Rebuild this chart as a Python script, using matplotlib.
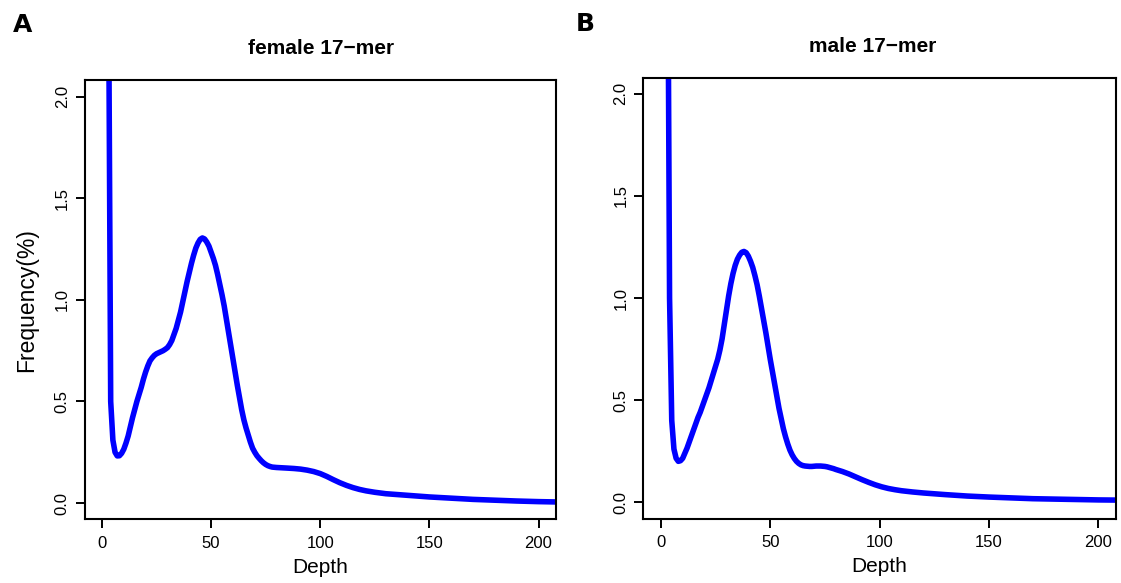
import numpy as np
import matplotlib.pyplot as plt

plt.rcParams['font.family'] = ['Liberation Sans', 'DejaVu Sans']

# k-mer depth distributions (depth, frequency %)
female_depth = list(range(1, 81)) + [85, 88, 91, 94, 97, 100, 103, 106, 109, 112, 115,
                                     118, 121, 125, 130, 140, 150, 160, 170, 180, 190,
                                     200, 210]
female_freq = [25.0, 7.0, 2.6, 0.50, 0.31, 0.25, 0.232, 0.233, 0.245, 0.265,
               0.295, 0.33, 0.375, 0.42, 0.46, 0.50, 0.535, 0.57, 0.61, 0.645,
               0.675, 0.70, 0.715, 0.727, 0.735, 0.74, 0.745, 0.75, 0.757, 0.765,
               0.78, 0.80, 0.83, 0.86, 0.90, 0.94, 0.99, 1.04, 1.09, 1.135,
               1.18, 1.22, 1.255, 1.28, 1.298, 1.305, 1.30, 1.285, 1.265, 1.235,
               1.205, 1.17, 1.125, 1.075, 1.025, 0.97, 0.905, 0.84, 0.775, 0.71,
               0.645, 0.58, 0.52, 0.46, 0.41, 0.37, 0.335, 0.30, 0.27, 0.25,
               0.233, 0.22, 0.208, 0.198, 0.19, 0.184, 0.18, 0.177, 0.176, 0.175,
               0.172, 0.170, 0.167, 0.162, 0.155, 0.145, 0.131, 0.115, 0.100, 0.087,
               0.076, 0.067, 0.060, 0.053, 0.046, 0.038, 0.030, 0.024, 0.018, 0.014,
               0.010, 0.007, 0.005]

male_depth = list(range(1, 81)) + [83, 86, 89, 92, 95, 98, 101, 104, 107, 110, 115,
                                   120, 130, 140, 150, 160, 170, 180, 190, 200, 210]
male_freq = [25.0, 7.0, 3.2, 1.0, 0.40, 0.26, 0.215, 0.20, 0.203, 0.215,
             0.24, 0.265, 0.295, 0.325, 0.355, 0.385, 0.415, 0.44, 0.47, 0.50,
             0.53, 0.56, 0.595, 0.63, 0.665, 0.70, 0.745, 0.80, 0.87, 0.94,
             1.01, 1.07, 1.12, 1.16, 1.19, 1.21, 1.224, 1.228, 1.222, 1.205,
             1.18, 1.15, 1.11, 1.065, 1.01, 0.95, 0.89, 0.83, 0.765, 0.70,
             0.64, 0.58, 0.52, 0.46, 0.41, 0.36, 0.32, 0.285, 0.255, 0.232,
             0.214, 0.20, 0.19, 0.183, 0.179, 0.177, 0.176, 0.175, 0.175, 0.176,
             0.177, 0.177, 0.177, 0.176, 0.175, 0.173, 0.17, 0.167, 0.164, 0.16,
             0.15, 0.138, 0.124, 0.11, 0.097, 0.085, 0.075, 0.067, 0.061, 0.056,
             0.05, 0.045, 0.037, 0.03, 0.025, 0.021, 0.017, 0.015, 0.013, 0.011,
             0.010]

xticks = [0, 50, 100, 150, 200]
yticks = [0.0, 0.5, 1.0, 1.5, 2.0]
ytick_labels = ['0.0', '0.5', '1.0', '1.5', '2.0']

W, H = 1121, 583
fig = plt.figure(figsize=(W / 100, H / 100), dpi=100)


def px_axes(x0, y0, x1, y1):
    return fig.add_axes([x0 / W, 1 - y1 / H, (x1 - x0) / W, (y1 - y0) / H])


def style(ax, depth, freq):
    ax.plot(depth, freq, color='#0000ff', lw=4, solid_joinstyle='round',
            solid_capstyle='round')
    ax.set_xlim(-8, 208)
    ax.set_ylim(-0.08, 2.08)
    ax.set_xticks(xticks)
    ax.set_yticks(yticks)
    ax.set_yticklabels(ytick_labels)
    for s in ax.spines.values():
        s.set_linewidth(1.5)
        s.set_color('black')
    ax.tick_params(length=6.7, width=1.4, labelsize=12, colors='black')
    ax.tick_params(axis='x', pad=5.5)
    ax.tick_params(axis='y', pad=4)
    for lab in ax.get_yticklabels():
        lab.set_rotation(90)
        lab.set_va('center')
    ax.set_xlabel('Depth', fontsize=15, labelpad=5)


ax1 = px_axes(84.5, 80.5, 556, 519.3)
style(ax1, female_depth, female_freq)
ax1.set_ylabel('Frequency(%)', fontsize=16.5, labelpad=12)

ax2 = px_axes(643.3, 77.5, 1116, 518.5)
style(ax2, male_depth, male_freq)

fig.text(321 / W, 1 - 54.5 / H, 'female 17\u2212mer', ha='center', va='baseline',
         fontsize=15, fontweight='bold')
fig.text(873 / W, 1 - 52 / H, 'male 17\u2212mer', ha='center', va='baseline',
         fontsize=15, fontweight='bold')

fig.text(13 / W, 1 - 31.5 / H, 'A', ha='left', va='baseline', fontsize=18,
         fontweight='bold', family='DejaVu Sans')
fig.text(576 / W, 1 - 31 / H, 'B', ha='left', va='baseline', fontsize=18,
         fontweight='bold', family='DejaVu Sans')

fig.savefig('out.png', dpi=100)
